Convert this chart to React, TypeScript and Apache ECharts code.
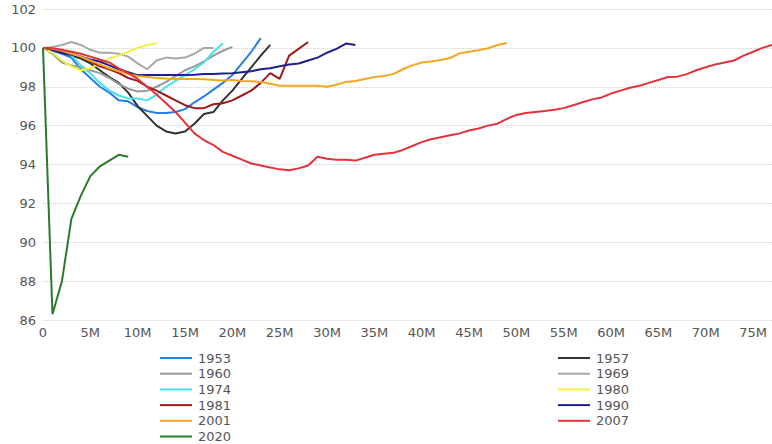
import React, { useEffect, useRef } from "react";
import * as echarts from "echarts";

// Employment index (peak = 100) by months after peak
const y1953 = [100, 99.85, 99.7, 99.5, 98.9, 98.45, 98.0, 97.7, 97.3, 97.25, 96.95, 96.75, 96.65, 96.65, 96.7, 96.85, 97.2, 97.5, 97.85, 98.2, 98.6, 99.2, 99.8, 100.5];
const y1957 = [100, 99.9, 99.75, 99.6, 99.45, 99.2, 98.85, 98.5, 98.2, 97.7, 97.0, 96.5, 96.0, 95.7, 95.6, 95.7, 96.1, 96.6, 96.7, 97.3, 97.8, 98.4, 99.0, 99.6, 100.15];
const y1960 = [100, 99.7, 99.25, 99.1, 99.0, 98.85, 98.7, 98.45, 98.15, 97.9, 97.75, 97.8, 98.0, 98.25, 98.55, 98.85, 99.05, 99.3, 99.6, 99.85, 100.05];
const y1969 = [100, 100.05, 100.15, 100.3, 100.15, 99.9, 99.75, 99.75, 99.7, 99.55, 99.2, 98.9, 99.35, 99.5, 99.45, 99.5, 99.7, 100.0, 100.0];
const y1974 = [100, 99.95, 99.85, 99.6, 99.1, 98.7, 98.2, 97.8, 97.55, 97.4, 97.4, 97.3, 97.6, 98.0, 98.3, 98.6, 98.9, 99.25, 99.8, 100.22];
const y1980 = [100, 99.75, 99.35, 99.05, 98.85, 98.95, 99.2, 99.45, 99.6, 99.8, 100.0, 100.15, 100.24];
const y1981 = [100, 99.95, 99.85, 99.7, 99.55, 99.3, 99.05, 98.9, 98.7, 98.45, 98.3, 98.0, 97.8, 97.55, 97.3, 97.05, 96.9, 96.9, 97.1, 97.15, 97.3, 97.55, 97.8, 98.2, 98.7, 98.4, 99.6, 99.95, 100.3];
const y1990 = [100, 99.9, 99.75, 99.65, 99.55, 99.4, 99.3, 99.1, 98.9, 98.75, 98.6, 98.6, 98.6, 98.6, 98.6, 98.6, 98.62, 98.65, 98.65, 98.68, 98.7, 98.75, 98.8, 98.9, 98.95, 99.05, 99.15, 99.2, 99.35, 99.5, 99.75, 99.95, 100.22, 100.15];
const y2001 = [100, 99.95, 99.85, 99.7, 99.55, 99.35, 99.15, 98.95, 98.8, 98.65, 98.55, 98.5, 98.45, 98.42, 98.4, 98.4, 98.4, 98.38, 98.35, 98.32, 98.35, 98.3, 98.28, 98.25, 98.15, 98.05, 98.05, 98.05, 98.05, 98.05, 98.0, 98.1, 98.25, 98.3, 98.4, 98.5, 98.55, 98.65, 98.9, 99.1, 99.25, 99.3, 99.38, 99.48, 99.72, 99.8, 99.88, 99.98, 100.15, 100.25];
const y2007 = [100, 99.98, 99.9, 99.8, 99.7, 99.55, 99.4, 99.25, 98.95, 98.7, 98.4, 98.0, 97.6, 97.15, 96.7, 96.15, 95.6, 95.25, 95.0, 94.65, 94.45, 94.25, 94.05, 93.95, 93.85, 93.75, 93.7, 93.8, 93.95, 94.4, 94.3, 94.25, 94.25, 94.2, 94.35, 94.5, 94.55, 94.6, 94.75, 94.95, 95.15, 95.3, 95.4, 95.5, 95.6, 95.75, 95.85, 96.0, 96.1, 96.35, 96.55, 96.65, 96.7, 96.75, 96.82, 96.9, 97.05, 97.2, 97.35, 97.45, 97.65, 97.8, 97.95, 98.05, 98.2, 98.35, 98.5, 98.52, 98.65, 98.85, 99.0, 99.15, 99.25, 99.35, 99.6, 99.8, 100.0, 100.15];
const y2020 = [100, 86.3, 88.0, 91.2, 92.4, 93.4, 93.9, 94.2, 94.5, 94.4];

const years = ["1953", "1957", "1960", "1969", "1974", "1980", "1981", "1990", "2001", "2007", "2020"];
const values = [y1953, y1957, y1960, y1969, y1974, y1980, y1981, y1990, y2001, y2007, y2020];
const colors = ["#2680e3", "#333333", "#999999", "#a8a8a8", "#45e3ea", "#f2f23c", "#9e1b1b", "#1f1f8f", "#f5a623", "#e3323a", "#2b7a2b"];

const leftLegend = ["1953", "1960", "1974", "1981", "2001", "2020"];
const rightLegend = ["1957", "1969", "1980", "1990", "2007"];

const yTicks = { min: 86, max: 102, interval: 2 };
const xTicks = { min: 0, max: 77, interval: 5 };

export default function App() {
  const ref = useRef<HTMLDivElement>(null);
  useEffect(() => {
    if (!ref.current) return;
    const chart = echarts.init(ref.current, null, { renderer: "svg" });
    const font = "'DejaVu Sans', Verdana, sans-serif";
    const legendBase = {
      orient: "vertical" as const,
      icon: "rect",
      itemWidth: 32,
      itemHeight: 2,
      itemGap: 1.7,
      padding: 0,
      height: 100,
      textStyle: { color: "#555", fontSize: 13, fontFamily: font, lineHeight: 14, padding: [0, 0, 0, 1] },
      selectedMode: false,
    };
    chart.setOption({
      animation: false,
      backgroundColor: "#fff",
      grid: { left: 43, right: 0, top: 9, bottom: 124, containLabel: false },
      legend: [
        { ...legendBase, data: leftLegend, left: 160, top: 351 },
        { ...legendBase, data: rightLegend, left: 558, top: 351 },
      ],
      xAxis: {
        type: "value",
        min: xTicks.min,
        max: xTicks.max,
        interval: xTicks.interval,
        axisLine: { show: false },
        axisTick: { show: false },
        splitLine: { show: false },
        axisLabel: {
          color: "#555",
          fontSize: 13,
          fontFamily: font,
          margin: 6,
          showMaxLabel: false,
          formatter: (v: number) => (v % 5 !== 0 ? "" : v === 0 ? "0" : `${v}M`),
        },
      },
      yAxis: {
        type: "value",
        min: yTicks.min,
        max: yTicks.max,
        interval: yTicks.interval,
        axisLine: { show: false },
        axisTick: { show: false },
        splitLine: { show: true, lineStyle: { color: "#cfcfcf", type: "dotted", width: 1 } },
        axisLabel: { color: "#555", fontSize: 13, fontFamily: font, margin: 7 },
      },
      series: years.map((name, i) => ({
        name,
        type: "line",
        data: values[i].map((v, m) => [m, v]),
        symbol: "none",
        showSymbol: false,
        smooth: false,
        color: colors[i],
        lineStyle: { width: 2, color: colors[i] },
        z: 2 + i,
      })),
    });
    return () => chart.dispose();
  }, []);
  return <div ref={ref} style={{ width: 772, height: 444, position: "absolute", left: 0, top: 0 }} />;
}
